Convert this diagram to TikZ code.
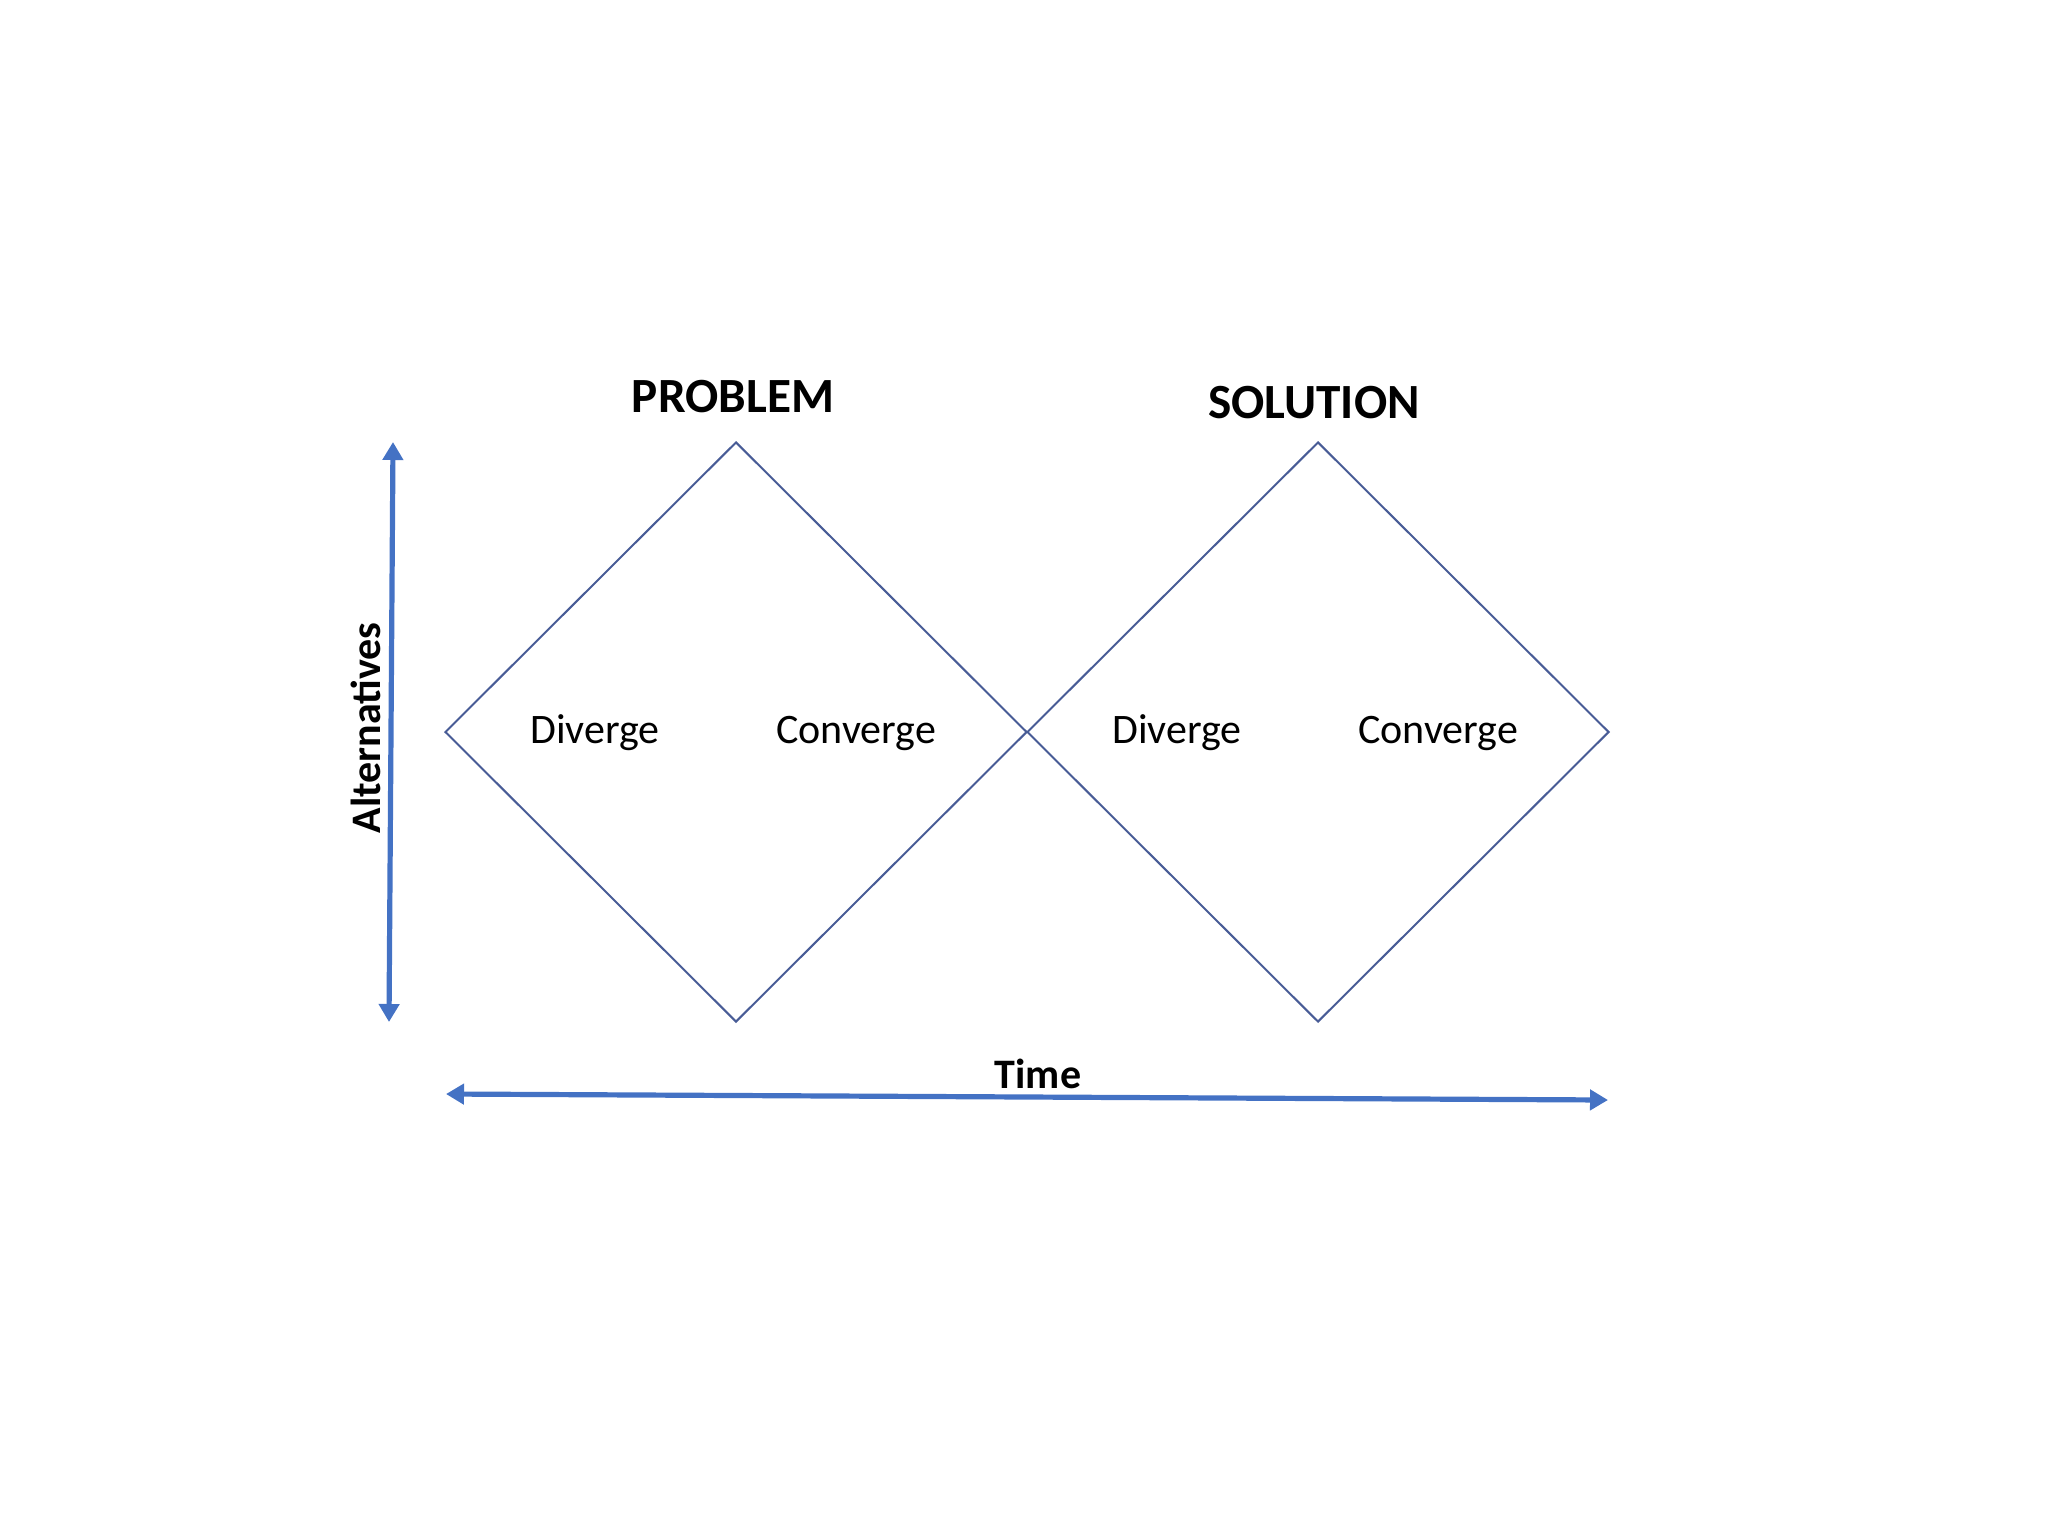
\documentclass[tikz,border=0pt]{standalone}
\usepackage{fontspec}
\setmainfont{Carlito}
\usetikzlibrary{shapes.geometric,arrows.meta}
\definecolor{axisblue}{RGB}{68,114,196}
\definecolor{dmdline}{RGB}{72,92,150}
\tikzset{
  phase/.style={diamond, draw=dmdline, line width=1pt, minimum width=291pt, minimum height=290pt, inner sep=0pt, aspect=1},
  axis/.style={draw=axisblue, line width=2.6pt, {Triangle[length=9pt,width=10pt]}-{Triangle[length=9pt,width=10pt]}},
  title/.style={font=\bfseries\fontsize{24.6}{28}\selectfont, inner sep=0pt},
  lbl/.style={font=\fontsize{21}{25}\selectfont, inner sep=0pt},
  axlbl/.style={font=\bfseries\fontsize{21}{25}\selectfont, inner sep=0pt}
}
\begin{document}
\begin{tikzpicture}[x=0.5pt,y=-0.5pt]
\useasboundingbox (0,0) rectangle (2048,1536);
\node[phase] (d1) at (736,732) {};
\node[phase] (d2) at (1318,732) {};
\node[title] (t1) at (733,397) {PROBLEM};
\node[title] (t2) at (1314,403) {SOLUTION};
\node[lbl] (l1) at (595,733) {Diverge};
\node[lbl] (l2) at (856,733) {Converge};
\node[lbl] (l3) at (1177,733) {Diverge};
\node[lbl] (l4) at (1438,733) {Converge};
\coordinate (vtop) at (393,442);
\coordinate (vbot) at (389,1022);
\coordinate (hl) at (446,1094);
\coordinate (hr) at (1608,1100);
\draw[axis] (vbot) -- (vtop);
\draw[axis] (hl) -- (hr);
\node[axlbl, rotate=90] (alt) at (366,728) {Alternatives};
\node[axlbl] (time) at (1038,1074) {Time};
\end{tikzpicture}
\end{document}
